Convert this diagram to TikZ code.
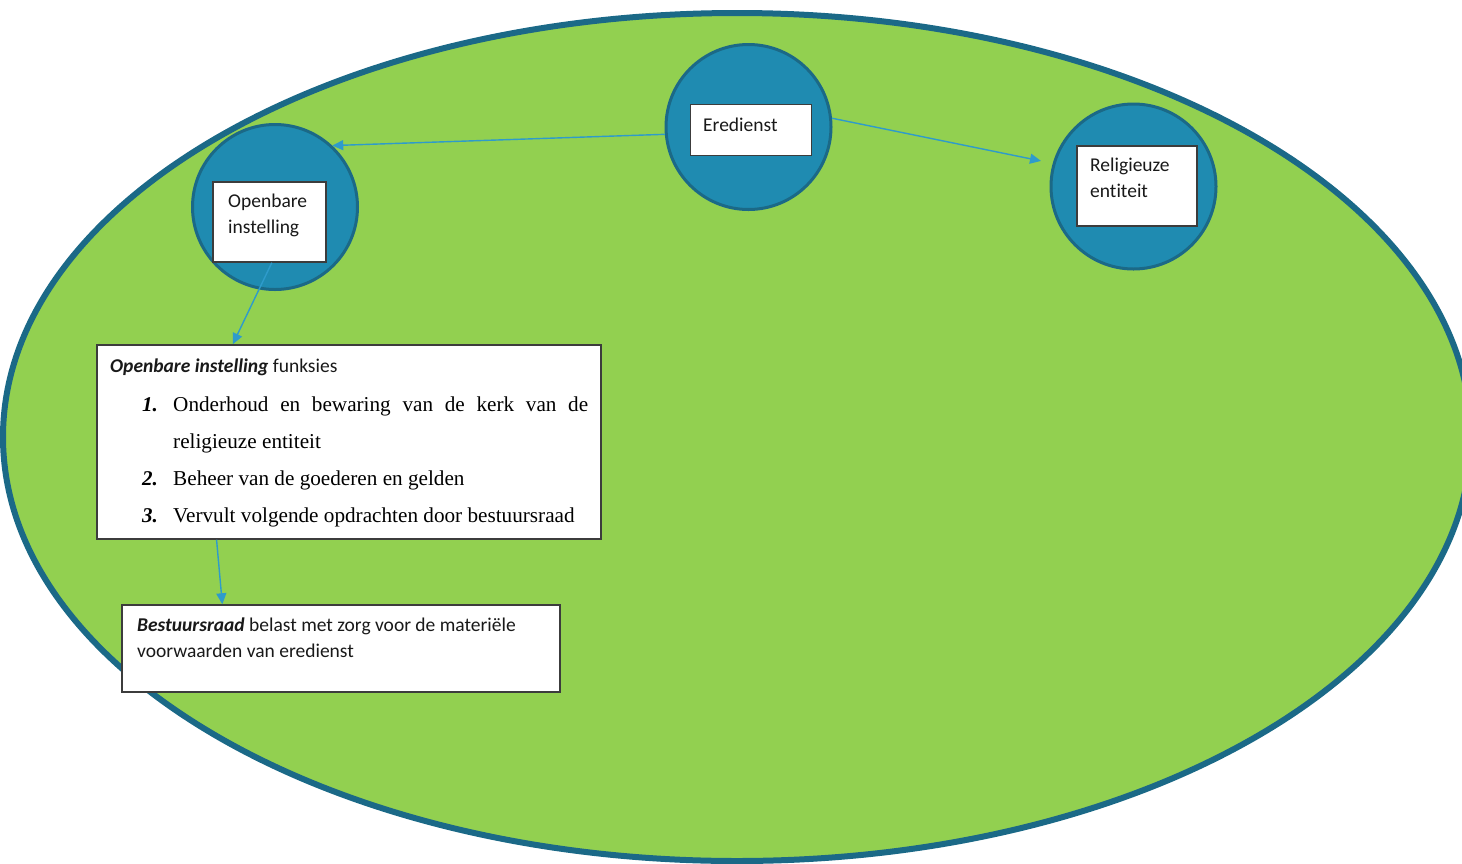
\documentclass[tikz,border=0pt]{standalone}
\usepackage{fontspec}
\setmainfont{Liberation Serif}
\newfontfamily\carlito[Ligatures=NoCommon]{Carlito}
\usetikzlibrary{arrows.meta,calc}
\definecolor{field}{HTML}{92D050}
\definecolor{rim}{HTML}{1B6987}
\definecolor{disc}{HTML}{1F8BB1}
\definecolor{link}{HTML}{2E9BCB}
\definecolor{frame}{HTML}{3C3C3C}
\begin{document}
\begin{tikzpicture}[x=1pt,y=-1pt,
  hub/.style={circle,fill=disc,draw=rim,line width=3pt,minimum size=165pt,inner sep=0pt},
  tag/.style={rectangle,fill=white,draw=frame,line width=1.5pt,inner sep=0pt},
  lbl/.style={font=\carlito\fontsize{19.5}{26}\selectfont,text=black!90,anchor=base west,inner sep=0pt},
  item/.style={font=\fontsize{21.2}{37}\selectfont,anchor=base west,inner sep=0pt},
  num/.style={font=\bfseries\itshape\fontsize{21}{37}\selectfont,anchor=base west,inner sep=0pt},
  arrow/.style={draw=link,line width=1.4pt,-{Triangle[length=11pt,width=10pt]}}]
\useasboundingbox (0,0) rectangle (1462,863);
% green field
\begin{scope}
  \clip (0,0) rectangle (1462,863);
  \draw[fill=field,draw=rim,line width=6pt] (737,437) ellipse [x radius=734pt, y radius=424pt];
\end{scope}

% three circles with their labels
\node[hub] (erC) at (748.5,127) {};
\node[tag,minimum width=121pt,minimum height=51pt] (erB) at (751,130) {};
\node[lbl] (erT) at (703,131) {Eredienst};

\node[hub] (opC) at (275,207) {};
\node[tag,minimum width=113pt,minimum height=80pt] (opB) at (269.5,222) {};
\node[lbl] (opT) at (228,207) {\parbox[t]{100pt}{\raggedright Openbare\\instelling}};

\node[hub] (reC) at (1133.5,186.5) {};
\node[tag,minimum width=120pt,minimum height=80pt] (reB) at (1137,186) {};
\node[lbl] (reT) at (1090,171) {\parbox[t]{110pt}{\raggedright Religieuze\\entiteit}};

% functions box
\node[tag,minimum width=504pt,minimum height=194pt] (mainB) at (349,442) {};
\node[lbl] (mainT) at (110,372) {{\bfseries\itshape Openbare instelling} funksies};
\node[num] (n1) at (142,411) {1.};
\node[item] (t1a) at (173,411) {\makebox[415pt][s]{Onderhoud en bewaring van de kerk van de}};
\node[item] (t1b) at (173,448) {religieuze entiteit};
\node[num] (n2) at (142,485) {2.};
\node[item] (t2) at (173,485) {Beheer van de goederen en gelden};
\node[num] (n3) at (142,522) {3.};
\node[item] (t3) at (173,522) {Vervult volgende opdrachten door bestuursraad};

% board box
\node[tag,minimum width=438pt,minimum height=87pt] (botB) at (341,648.5) {};
\node[lbl] (botT) at (137,631) {\parbox[t]{420pt}{\raggedright{\bfseries\itshape Bestuursraad} belast met zorg voor de materiële\\voorwaarden van eredienst}};

% connectors
\draw[arrow] (erC.185) -- (opC.47);
\draw[arrow,shorten >=12pt] (erC.6) -- (reC.164);
\draw[arrow] ($(opB.south west)!0.52!(opB.south east)$) -- ($(mainB.north west)!0.27!(mainB.north east)$);
\draw[arrow] ($(mainB.south west)!0.238!(mainB.south east)$) -- ($(botB.north west)!0.23!(botB.north east)$);
\end{tikzpicture}
\end{document}
